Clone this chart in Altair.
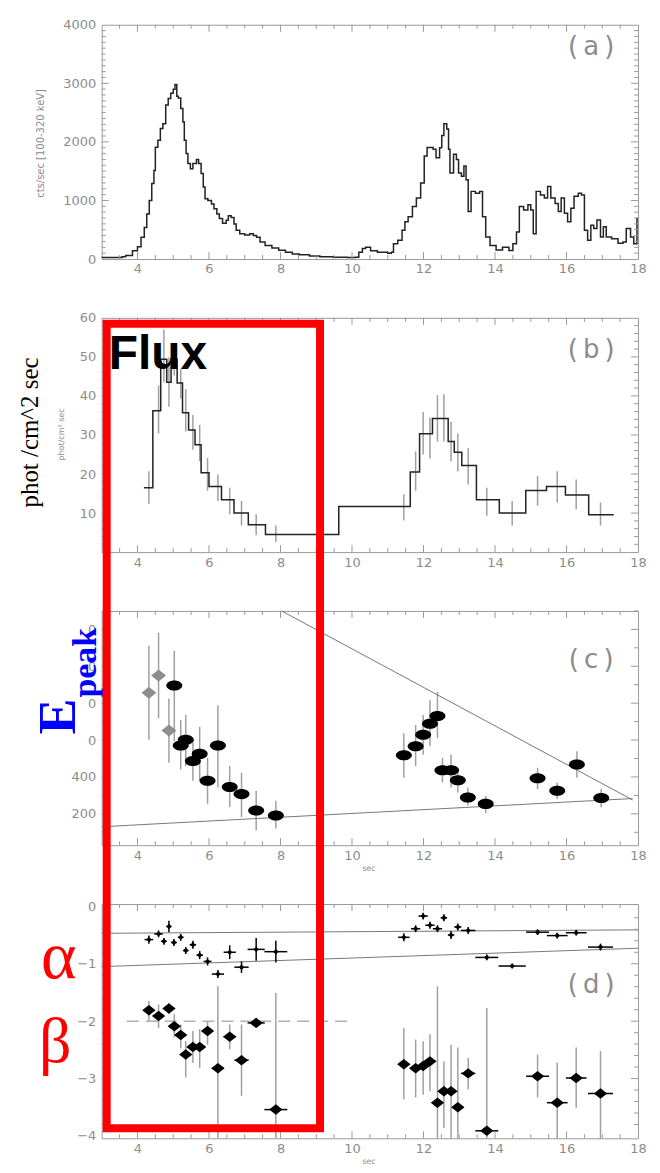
import altair as alt
import pandas as pd

# ---------------- data ----------------
# (a) count-rate light curve, step-after
lc_time = [3.0, 3.57, 3.67, 3.86, 4.0, 4.1, 4.19, 4.26, 4.33, 4.4, 4.46, 4.5, 4.57, 4.64, 4.71, 4.79,
           4.86, 4.93, 5.0, 5.05, 5.1, 5.14, 5.21, 5.27, 5.31, 5.36, 5.41, 5.48, 5.55, 5.65, 5.71, 5.78,
           5.84, 5.89, 5.97, 6.07, 6.14, 6.22, 6.29, 6.38, 6.48, 6.54, 6.62, 6.7, 6.76, 6.86, 7.0, 7.14,
           7.24, 7.33, 7.43, 7.57, 7.76, 7.95, 8.14, 8.33, 8.52, 8.81, 9.1, 9.48, 9.86, 10.1, 10.19, 10.29,
           10.38, 10.52, 10.71, 11.0, 11.1, 11.16, 11.28, 11.4, 11.48, 11.57, 11.69, 11.8, 11.92, 12.02,
           12.1, 12.27, 12.35, 12.45, 12.51, 12.57, 12.65, 12.7, 12.74, 12.84, 12.92, 12.98, 13.06, 13.13,
           13.19, 13.25, 13.33, 13.45, 13.57, 13.65, 13.74, 13.86, 14.03, 14.21, 14.39, 14.5, 14.6, 14.68,
           14.8, 14.92, 15.0, 15.07, 15.15, 15.27, 15.38, 15.47, 15.56, 15.68, 15.77, 15.85, 15.94, 16.03,
           16.12, 16.21, 16.33, 16.42, 16.5, 16.59, 16.68, 16.76, 16.85, 16.95, 17.03, 17.11, 17.26, 17.44,
           17.58, 17.67, 17.79, 17.88, 17.97, 18.0]
lc_counts = [25, 40, 60, 140, 210, 370, 540, 770, 1000, 1290, 1510, 1910, 2030, 2230, 2310, 2630,
             2740, 2830, 2900, 2980, 2780, 2750, 2570, 2340, 2030, 1800, 1630, 1540, 1630, 1700, 1630, 1460,
             1230, 1030, 1000, 940, 860, 770, 690, 610, 660, 740, 710, 600, 490, 430, 410, 430,
             400, 370, 290, 230, 190, 150, 115, 85, 75, 50, 40, 30, 25, 30, 115, 180,
             200, 140, 115, 100, 115, 260, 320, 490, 635, 720, 895, 1040, 1300, 1760,
             1905, 1875, 1730, 1900, 2110, 2310, 2220, 1875, 1470, 1790, 1700, 1470, 1415, 1590,
             1355, 810, 1155, 1125, 1155, 720, 375, 230, 155, 200, 145, 260, 460, 895,
             835, 925, 835, 430, 1155, 1095, 1040, 1240, 1040, 950, 810, 1040, 780, 635,
             865, 1070, 1125, 1095, 490, 320, 575, 520, 665, 375, 550, 375, 345, 270,
             290, 520, 375, 260, 690, 690]

# (b) photon flux, bins and error bars
flux_start = [4.18, 4.43, 4.65, 4.82, 4.94, 5.11, 5.26, 5.43, 5.61, 5.78, 6.00, 6.35, 6.70, 7.10,
              7.58, 9.63, 11.63, 11.89, 12.25, 12.69, 12.86, 13.07, 13.48, 14.12, 14.86, 15.44,
              15.97, 16.62]
flux_last_end = 17.32
flux_value = [16.5, 36.2, 49.4, 43.5, 49.4, 43.3, 35.7, 31.3, 27.5, 20.3, 16.8, 13.4, 10.0, 7.0,
              4.5, 11.7, 20.5, 30.3, 34.2, 28.3, 25.6, 22.2, 13.4, 10.0, 15.8, 16.8, 14.6, 9.6]
fluxerr_time = [4.32, 4.59, 4.74, 4.88, 5.03, 5.21, 5.35, 5.55, 5.74, 5.96, 6.25, 6.58, 6.91, 7.32,
                7.87, 11.45, 11.78, 11.99, 12.18, 12.39, 12.57, 12.77, 12.96, 13.25, 13.77, 14.48,
                15.19, 15.74, 16.27, 16.95]
fluxerr_hi = [20.7, 42.7, 57.0, 49.9, 52.8, 46.9, 41.8, 35.1, 32.6, 24.1, 19.9, 16.5, 13.1, 9.7,
              6.8, 14.8, 25.8, 35.9, 34.5, 40.2, 40.4, 33.4, 30.4, 26.6, 16.5, 13.1, 19.5, 20.7,
              18.6, 12.7]
fluxerr_lo = [12.3, 30.4, 43.5, 37.2, 45.2, 39.3, 30.9, 26.2, 23.3, 15.7, 13.1, 9.7, 6.8, 4.3,
              2.6, 8.1, 15.7, 25.0, 24.0, 28.3, 28.3, 23.3, 20.7, 17.3, 9.3, 6.8, 11.9, 12.7,
              11.0, 6.8]

# (c) Epeak
ep2_time = [4.32, 4.59, 4.88]
ep2_val = [857, 950, 652]
ep2_lo = [602, 718, 477]
ep2_hi = [1111, 1182, 825]
ep_time = [5.03, 5.21, 5.35, 5.55, 5.74, 5.96, 6.25, 6.58, 6.91, 7.32, 7.87, 11.45, 11.78, 11.99,
           12.18, 12.39, 12.53, 12.77, 12.96, 13.24, 13.74, 15.19, 15.74, 16.29, 16.97]
ep_val = [896, 571, 602, 486, 525, 379, 571, 346, 307, 218, 191, 518, 566, 629, 688, 730, 436,
          436, 382, 289, 254, 393, 325, 468, 286]
ep_lo = [593, 441, 459, 379, 379, 254, 343, 236, 182, 111, 120, 396, 459, 521, 566, 611, 370,
         343, 316, 245, 204, 334, 280, 396, 236]
ep_hi = [1084, 709, 736, 611, 673, 504, 789, 459, 423, 325, 271, 637, 682, 736, 816, 861, 504,
         521, 450, 343, 298, 450, 370, 539, 334]
eline1_time = [8.03, 17.85]
eline1_val = [1300, 275]
eline2_time = [3.0, 17.85]
eline2_val = [130, 283]

# (d) alpha and beta
al_time = [4.32, 4.59, 4.74, 4.88, 5.02, 5.21, 5.35, 5.55, 5.74, 5.96, 6.25, 6.58, 6.91, 7.32,
           7.87, 11.45, 11.78, 11.99, 12.18, 12.39, 12.57, 12.77, 12.96, 13.25, 13.77, 14.48,
           15.19, 15.74, 16.27, 16.95]
al_val = [-0.58, -0.48, -0.61, -0.35, -0.63, -0.54, -0.77, -0.67, -0.85, -0.96, -1.18, -0.80,
          -1.06, -0.75, -0.79, -0.54, -0.39, -0.17, -0.33, -0.39, -0.20, -0.50, -0.36, -0.42,
          -0.89, -1.04, -0.45, -0.51, -0.46, -0.71]
al_err = [0.07, 0.06, 0.06, 0.10, 0.06, 0.06, 0.06, 0.07, 0.07, 0.07, 0.07, 0.12, 0.10, 0.20,
          0.19, 0.07, 0.06, 0.06, 0.06, 0.06, 0.06, 0.07, 0.06, 0.06, 0.05, 0.04, 0.05, 0.05,
          0.05, 0.06]
al_halfbin = [0.12, 0.12, 0.08, 0.07, 0.08, 0.08, 0.08, 0.09, 0.09, 0.11, 0.17, 0.17, 0.20, 0.24,
              0.32, 0.16, 0.13, 0.13, 0.13, 0.13, 0.09, 0.09, 0.10, 0.20, 0.32, 0.38, 0.32, 0.29,
              0.29, 0.35]
be_time = [4.32, 4.59, 4.88, 5.03, 5.21, 5.35, 5.55, 5.74, 5.96, 6.25, 6.58, 6.91, 7.32, 7.87,
           11.45, 11.78, 11.99, 12.18, 12.39, 12.57, 12.77, 12.96, 13.25, 13.77, 15.19, 15.74,
           16.27, 16.95]
be_val = [-1.81, -1.91, -1.78, -2.09, -2.24, -2.58, -2.45, -2.45, -2.17, -2.82, -2.27, -2.68,
          -2.03, -3.54, -2.75, -2.82, -2.78, -2.70, -3.42, -3.22, -3.22, -3.50, -2.91, -3.91,
          -2.96, -3.42, -2.99, -3.26]
be_hi = [-1.65, -1.71, -1.68, -1.88, -2.06, -2.35, -2.17, -2.14, -2.00, -1.39, -2.06, -2.06,
         -1.94, -1.51, -2.12, -2.32, -2.35, -2.23, -1.39, -2.70, -2.41, -2.46, -2.64, -1.77,
         -2.58, -2.72, -2.46, -2.52]
be_lo = [-2.00, -2.12, -1.88, -2.28, -2.47, -2.98, -2.73, -2.81, -2.41, -4.20, -2.49, -3.30,
         -2.12, -4.20, -3.36, -3.33, -3.28, -3.22, -4.20, -3.86, -4.20, -4.20, -3.19, -4.20,
         -3.33, -4.20, -3.51, -4.20]
be_halfbin = [0.12, 0.12, 0.08, 0.08, 0.08, 0.08, 0.09, 0.09, 0.11, 0.17, 0.17, 0.20, 0.24, 0.32,
              0.16, 0.13, 0.13, 0.13, 0.13, 0.09, 0.09, 0.10, 0.20, 0.32, 0.32, 0.29, 0.29, 0.35]
aline1_time = [3.0, 18.0]
aline1_val = [-0.47, -0.41]
aline2_time = [3.0, 18.0]
aline2_val = [-1.05, -0.73]
bline_start, bline_end, bline_val = 3.7, 10.04, -2.0

x_ticks = [4, 6, 8, 10, 12, 14, 16, 18]

# ---------------- layout / style ----------------
W, H, SP = 538, 235, 59
LEFT = 101
TOPS = {"a": 22, "b": 22 + (H + SP), "c": 22 + 2 * (H + SP), "d": 22 + 3 * (H + SP)}
GRAY = "#8c8c8c"
FRAME = "#9a9a9a"
ERR = "#a0a0a0"
LBL_FONT = "DejaVu Sans"

def rx(xp):
    return xp - LEFT

def ry(yp, panel):
    return yp - TOPS[panel]

one = pd.DataFrame({"k": [0]})
XS = alt.Scale(domain=[3, 18], nice=False, zero=False)

XAXIS = alt.Axis(values=x_ticks, ticks=False, domain=False, grid=False, labelFlush=False,
                 labelOverlap=False, labelPadding=4, title=None, labelFont=LBL_FONT,
                 labelFontSize=13, labelColor=GRAY, format="d")

def X(field="t"):
    return alt.X(f"{field}:Q", scale=XS, axis=XAXIS)

def make_yaxis(vals, expr=None):
    kw = dict(values=vals, ticks=False, domain=False, grid=False, labelFlush=False,
              labelOverlap=False, labelPadding=6, title=None, labelFont=LBL_FONT,
              labelFontSize=13, labelColor=GRAY, format="d")
    if expr:
        kw["labelExpr"] = expr
    return alt.Axis(**kw)

def frange(a, b, step):
    out, v = [], a
    while v <= b + 1e-9:
        out.append(round(v, 4))
        v += step
    return out

class Panel:
    def __init__(self, scale, axis):
        self.scale = scale
        self.axis = axis

    def Y(self, field):
        return alt.Y(f"{field}:Q", scale=self.scale, axis=self.axis)

def tick_layers(P, ymaj, ymin):
    layers = []
    xmaj = [4, 6, 8, 10, 12, 14, 16]
    xmin = [v for v in frange(3.5, 17.5, 0.5) if v not in xmaj]
    for vals, L in [(xmaj, 7), (xmin, 4)]:
        df = pd.DataFrame({"t": vals})
        layers.append(alt.Chart(df).mark_rule(color=FRAME, strokeWidth=1).encode(
            x=X(), y=alt.value(H), y2=alt.value(H - L)))
        layers.append(alt.Chart(df).mark_rule(color=FRAME, strokeWidth=1).encode(
            x=X(), y=alt.value(0), y2=alt.value(L)))
    for vals, L in [(ymaj, 7), (ymin, 4)]:
        df = pd.DataFrame({"v": vals})
        layers.append(alt.Chart(df).mark_rule(color=FRAME, strokeWidth=1).encode(
            y=P.Y("v"), x=alt.value(0), x2=alt.value(L)))
        layers.append(alt.Chart(df).mark_rule(color=FRAME, strokeWidth=1).encode(
            y=P.Y("v"), x=alt.value(W), x2=alt.value(W - L)))
    return layers

def label(text, xp, yp, panel, size, color=GRAY, font=LBL_FONT, angle=0, weight="normal",
          align="center", baseline="middle"):
    return alt.Chart(one).mark_text(text=text, fontSize=size, color=color, font=font, angle=angle,
                                    fontWeight=weight, align=align, baseline=baseline).encode(
        x=alt.value(rx(xp)), y=alt.value(ry(yp, panel)))

ELLIPSE = ("M-1,0C-1,-0.35 -0.55,-0.63 0,-0.63C0.55,-0.63 1,-0.35 1,0"
           "C1,0.35 0.55,0.63 0,0.63C-0.55,0.63 -1,0.35 -1,0Z")
DIAM_C = "M-1,0L0,-0.8L1,0L0,0.8Z"
DIAM_D = "M-1,0L0,-0.78L1,0L0,0.78Z"

# ---------------- panel (a) ----------------
PA = Panel(alt.Scale(domain=[0, 4000], nice=False, zero=False),
           make_yaxis([0, 1000, 2000, 3000, 4000]))
lc = pd.DataFrame({"t": lc_time, "c": lc_counts})
# invisible frame that fixes the page origin of the whole figure
bg = alt.Chart(one).mark_rect(color="white", opacity=0).encode(
    x=alt.value(-93), x2=alt.value(551), y=alt.value(-14), y2=alt.value(1140))
pa = alt.layer(
    bg,
    alt.Chart(lc).mark_line(interpolate="step-after", color="#222222", strokeWidth=1.5).encode(
        x=X(), y=PA.Y("c")),
    *tick_layers(PA, [1000, 2000, 3000], [v for v in frange(100, 3900, 100) if v % 1000]),
    label("(\u2009a\u2009)", 592, 44, "a", 26),
    label("cts/sec [100-320 keV]", 40, 141, "a", 10, angle=270),
).properties(width=W, height=H)

# ---------------- panel (b) ----------------
PB = Panel(alt.Scale(domain=[0, 60], nice=False, zero=False),
           make_yaxis([10, 20, 30, 40, 50, 60]))
fl = pd.DataFrame({"t": flux_start + [flux_last_end], "f": flux_value + [flux_value[-1]]})
fe = pd.DataFrame({"t": fluxerr_time, "lo": fluxerr_lo, "hi": fluxerr_hi})
pb = alt.layer(
    alt.Chart(fe).mark_rule(color=ERR, strokeWidth=1.5).encode(
        x=X(), y=PB.Y("lo"), y2="hi:Q"),
    alt.Chart(fl).mark_line(interpolate="step-after", color="#222222", strokeWidth=1.5).encode(
        x=X(), y=PB.Y("f")),
    *tick_layers(PB, [10, 20, 30, 40, 50], [v for v in frange(2, 58, 2) if v % 10]),
    label("(\u2009b\u2009)", 592, 348, "b", 26),
    label("phot/cm\u00b2 sec", 61, 433, "b", 8, angle=270),
    label("phot /cm^2 sec", 29.5, 431, "b", 25, color="black", font="Liberation Serif", angle=270),
    label("Flux", 108, 367, "b", 48, color="black", font="Liberation Sans", weight="bold",
          align="left", baseline="alphabetic"),
).properties(width=W, height=H)

# ---------------- panel (c) ----------------
PC = Panel(alt.Scale(domain=[30, 1300], nice=False, zero=False),
           make_yaxis([200, 400, 600, 800, 1000, 1200], "datum.value <= 400 ? datum.label : '0'"))
e2 = pd.DataFrame({"t": ep2_time, "v": ep2_val, "lo": ep2_lo, "hi": ep2_hi})
e1 = pd.DataFrame({"t": ep_time, "v": ep_val, "lo": ep_lo, "hi": ep_hi})
l1 = pd.DataFrame({"t": eline1_time, "v": eline1_val})
l2 = pd.DataFrame({"t": eline2_time, "v": eline2_val})
pc = alt.layer(
    alt.Chart(e1).mark_rule(color=ERR, strokeWidth=1.5).encode(x=X(), y=PC.Y("lo"), y2="hi:Q"),
    alt.Chart(e2).mark_rule(color=ERR, strokeWidth=1.5).encode(x=X(), y=PC.Y("lo"), y2="hi:Q"),
    alt.Chart(l1).mark_line(color="#777777", strokeWidth=1).encode(x=X(), y=PC.Y("v")),
    alt.Chart(l2).mark_line(color="#777777", strokeWidth=1).encode(x=X(), y=PC.Y("v")),
    alt.Chart(e2).mark_point(shape=DIAM_C, filled=True, size=225, color="#8e8e8e", opacity=1,
                             strokeWidth=0).encode(x=X(), y=PC.Y("v")),
    alt.Chart(e1).mark_point(shape=ELLIPSE, filled=True, size=256, color="black", opacity=1,
                             strokeWidth=0).encode(x=X(), y=PC.Y("v")),
    *tick_layers(PC, [200, 400, 600, 800, 1000, 1200], [v for v in frange(100, 1300, 100) if v % 200]),
    label("(\u2009c\u2009)", 592, 659, "c", 26),
    label("sec", 369, 869, "c", 8),
    label("E", 74, 716, "c", 54, color="#0000ff", font="Liberation Serif", weight="bold",
          angle=270, baseline="alphabetic"),
    label("peak", 95, 662, "c", 34, color="#0000ff", font="Liberation Serif", weight="bold",
          angle=270, baseline="alphabetic"),
).properties(width=W, height=H)

# ---------------- panel (d) ----------------
PD = Panel(alt.Scale(domain=[-4.04, 0.04], nice=False, zero=False),
           make_yaxis([0, -1, -2, -3, -4]))
al = pd.DataFrame({"t": al_time, "v": al_val, "e": al_err, "hb": al_halfbin})
al["lo"] = al["v"] - al["e"]
al["hi"] = al["v"] + al["e"]
al["t0"] = al["t"] - al["hb"]
al["t1"] = al["t"] + al["hb"]
be = pd.DataFrame({"t": be_time, "v": be_val, "lo": be_lo, "hi": be_hi, "hb": be_halfbin})
be["t0"] = be["t"] - be["hb"]
be["t1"] = be["t"] + be["hb"]
a1 = pd.DataFrame({"t": aline1_time, "v": aline1_val})
a2 = pd.DataFrame({"t": aline2_time, "v": aline2_val})
bl = pd.DataFrame({"t0": [bline_start], "t1": [bline_end], "v": [bline_val]})
red = alt.Chart(one).mark_rect(fillOpacity=0, stroke="#ff0000", strokeWidth=8).encode(
    x=alt.value(rx(106)), x2=alt.value(rx(320)), y=alt.value(ry(322, "d")), y2=alt.value(ry(1129, "d")))
pd_ = alt.layer(
    alt.Chart(a1).mark_line(color="#777777", strokeWidth=1).encode(x=X(), y=PD.Y("v")),
    alt.Chart(a2).mark_line(color="#777777", strokeWidth=1).encode(x=X(), y=PD.Y("v")),
    alt.Chart(bl).mark_rule(color="#888888", strokeWidth=1, strokeDash=[12, 7]).encode(
        x=X("t0"), x2="t1:Q", y=PD.Y("v")),
    alt.Chart(be).mark_rule(color=ERR, strokeWidth=1.5, clip=True).encode(
        x=X(), y=PD.Y("lo"), y2="hi:Q"),
    alt.Chart(be).mark_rule(color="black", strokeWidth=1.5).encode(
        x=X("t0"), x2="t1:Q", y=PD.Y("v")),
    alt.Chart(be).mark_point(shape=DIAM_D, filled=True, size=180, color="black", opacity=1,
                             strokeWidth=0).encode(x=X(), y=PD.Y("v")),
    alt.Chart(al).mark_rule(color="black", strokeWidth=1.5).encode(
        x=X(), y=PD.Y("lo"), y2="hi:Q"),
    alt.Chart(al).mark_rule(color="black", strokeWidth=1.5).encode(
        x=X("t0"), x2="t1:Q", y=PD.Y("v")),
    alt.Chart(al).mark_point(shape="diamond", filled=True, size=30, color="black", opacity=1,
                             strokeWidth=0).encode(x=X(), y=PD.Y("v")),
    *tick_layers(PD, [-1, -2, -3], [v for v in frange(-3.8, -0.2, 0.2) if abs(v - round(v)) > 1e-6]),
    label("(\u2009d\u2009)", 592, 985, "d", 26),
    label("sec", 369, 1163, "d", 8),
    label("\u03b1", 58, 978, "d", 68, color="#ff0000", font="Liberation Serif",
          baseline="alphabetic"),
    label("\u03b2", 54.5, 1062, "d", 64, color="#ff0000", font="Liberation Serif",
          baseline="alphabetic"),
    red,
).properties(width=W, height=H)

chart = alt.vconcat(pa, pb, pc, pd_, spacing=SP, bounds="flush").properties(
    padding=0, background="white"
).configure_view(stroke=FRAME, strokeWidth=1)

chart.save("out.html", embed_options={"renderer": "svg", "actions": False})
